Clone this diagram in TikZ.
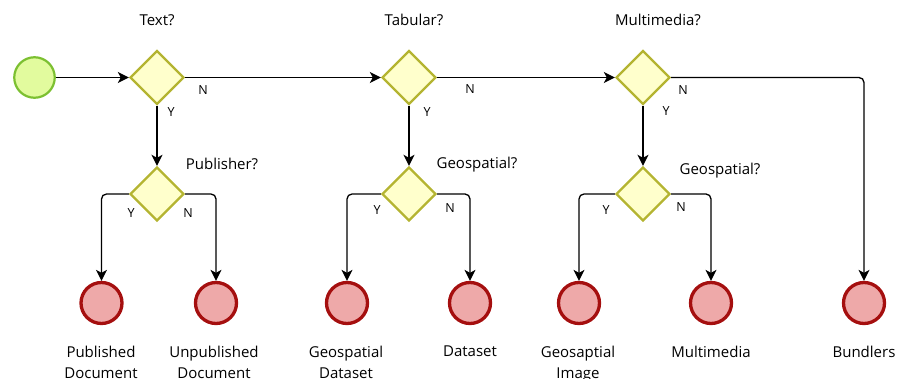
\documentclass[tikz,border=0pt]{standalone}
\usepackage{fontspec}
\setmainfont{Open Sans}
\usetikzlibrary{shapes.geometric,arrows.meta}
\definecolor{startfill}{HTML}{E2FB9E}
\definecolor{startline}{HTML}{7CC031}
\definecolor{gatefill}{HTML}{FFFFCC}
\definecolor{gateline}{HTML}{B4B431}
\definecolor{endfill}{HTML}{EEA9A9}
\definecolor{endline}{HTML}{A50F0F}
\begin{document}
\begin{tikzpicture}[x=1pt,y=1pt,
  startev/.style={circle, draw=startline, fill=startfill, line width=2.2pt, minimum size=40.5pt, inner sep=0pt},
  endev/.style={circle, draw=endline, fill=endfill, line width=3.3pt, minimum size=41pt, inner sep=0pt},
  gate/.style={diamond, aspect=1, draw=gateline, fill=gatefill, line width=2.4pt, minimum size=54pt, inner sep=0pt},
  flow/.style={line width=1.3pt, -{Stealth[length=11pt,width=11pt,inset=3pt]}, rounded corners=5pt},
  lbl/.style={font=\fontsize{15}{21}\selectfont, inner sep=0pt, align=center},
  bot/.style={lbl, anchor=north},
  yn/.style={font=\fontsize{12.5}{15}\selectfont, inner sep=0pt}
]
\useasboundingbox (0,0) rectangle (899,-379);

% events and gateways
\node[startev] (s) at (34.5,-77.5) {};
\node[gate] (g1) at (157,-77.5) {};
\node[gate] (g2) at (409,-77.5) {};
\node[gate] (g3) at (643,-77.5) {};
\node[gate] (h1) at (157,-194) {};
\node[gate] (h2) at (409,-194) {};
\node[gate] (h3) at (643,-194) {};
\node[endev] (e1) at (101.5,-303) {};
\node[endev] (e2) at (216,-303) {};
\node[endev] (e3) at (347,-303) {};
\node[endev] (e4) at (470,-303) {};
\node[endev] (e5) at (579,-303) {};
\node[endev] (e6) at (711,-303) {};
\node[endev] (e7) at (864,-303) {};

% connectors
\draw[flow] (s) -- (g1.west);
\draw[flow] (g1.east) -- (g2.west);
\draw[flow] (g2.east) -- (g3.west);
\draw[flow] (g3.east) -| (e7.north);
\draw[flow] (g1.south) -- (h1.north);
\draw[flow] (g2.south) -- (h2.north);
\draw[flow] (g3.south) -- (h3.north);
\draw[flow] (h1.west) -| (e1.north);
\draw[flow] (h1.east) -| (e2.north);
\draw[flow] (h2.west) -| (e3.north);
\draw[flow] (h2.east) -| (e4.north);
\draw[flow] (h3.west) -| (e5.north);
\draw[flow] (h3.east) -| (e6.north);

% question labels
\node[lbl] (t1) at (157,-20) {Text?};
\node[lbl] (t2) at (414,-20) {Tabular?};
\node[lbl] (t3) at (658,-20) {Multimedia?};
\node[lbl] (q1) at (222,-164) {Publisher?};
\node[lbl] (q2) at (477,-165) {Geospatial?};
\node[lbl] (q3) at (720,-171) {Geospatial?};

% Y / N labels
\node[yn] (n1) at (203,-90) {N};
\node[yn] (y1) at (171,-112) {Y};
\node[yn] (n2) at (470,-89) {N};
\node[yn] (y2) at (427,-112) {Y};
\node[yn] (n3) at (683,-90) {N};
\node[yn] (y3) at (666,-111) {Y};
\node[yn] (y4) at (131,-213) {Y};
\node[yn] (n4) at (188,-213) {N};
\node[yn] (y5) at (377,-210) {Y};
\node[yn] (n5) at (450,-208) {N};
\node[yn] (y6) at (606,-210) {Y};
\node[yn] (n6) at (681,-207) {N};

% end labels
\node[bot] (l1) at (101,-346) {Published\\Document};
\node[bot] (l2) at (214,-346) {Unpublished\\Document};
\node[bot] (l3) at (346,-346) {Geospatial\\Dataset};
\node[bot] (l4) at (470,-346) {Dataset};
\node[bot] (l5) at (578,-346) {Geosaptial\\Image};
\node[bot] (l6) at (711,-346) {Multimedia};
\node[bot] (l7) at (864,-346) {Bundlers};
\end{tikzpicture}
\end{document}
